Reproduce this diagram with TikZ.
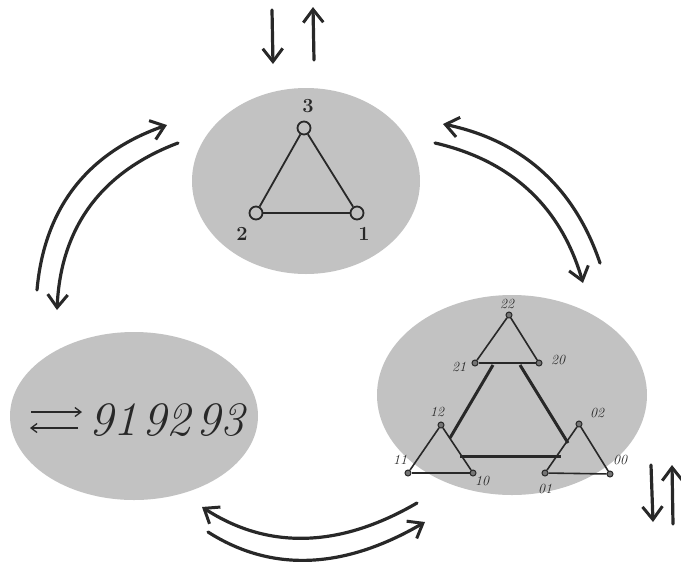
\documentclass[tikz,border=0pt]{standalone}
\usetikzlibrary{arrows.meta,shapes.geometric}
\definecolor{blobgray}{RGB}{194,194,194}
\definecolor{ink}{RGB}{40,40,40}
\tikzset{
  blob/.style={ellipse, fill=blobgray, draw=none, inner sep=0pt},
  bigvert/.style={circle, draw=ink, line width=1.8pt, minimum size=13pt, inner sep=0pt},
  smallvert/.style={circle, draw=ink, fill=blobgray!50!ink, line width=1pt, minimum size=6pt, inner sep=0pt},
  edge1/.style={draw=ink, line width=1.8pt},
  edge2/.style={draw=ink, line width=1.6pt},
  edge3/.style={draw=ink, line width=3pt},
  swoosh/.style={draw=ink, line width=3.2pt, line cap=round, -{Straight Barb[length=13pt,width=20pt,line width=3pt]}},
  biglbl/.style={text=ink, font=\fontsize{20}{20}\selectfont\bfseries, inner sep=0pt},
  smlbl/.style={text=ink, font=\fontsize{14}{14}\selectfont\itshape, inner sep=0pt},
  numlbl/.style={text=ink, font=\fontsize{48}{48}\selectfont\itshape, inner sep=0pt},
}
\begin{document}
\begin{tikzpicture}[x=1pt,y=-1pt]
\useasboundingbox (0,0) rectangle (681,566);
% blobs
\node[blob, minimum width=228pt, minimum height=186pt] (top) at (306,181) {};
\node[blob, minimum width=248pt, minimum height=168pt] (left) at (134,416) {};
\node[blob, minimum width=270pt, minimum height=200pt] (right) at (512,395) {};

% top triangle
\node[bigvert] (t3) at (304,128) {};
\node[bigvert] (t2) at (256,213) {};
\node[bigvert] (t1) at (357,213) {};
\draw[edge1] (t3) -- (t2);
\draw[edge1] (t2) -- (t1);
\draw[edge1] (t1) -- (t3);
\node[biglbl] (l3) at (308,106) {3};
\node[biglbl] (l2) at (242,234) {2};
\node[biglbl] (l1) at (364,234) {1};

% right structure
\node[smallvert] (v22) at (509,315) {};
\node[smallvert] (v21) at (475,363) {};
\node[smallvert] (v20) at (539,363) {};
\node[smallvert] (v12) at (441,425) {};
\node[smallvert] (v11) at (408,473) {};
\node[smallvert] (v10) at (473,473) {};
\node[smallvert] (v02) at (579,424) {};
\node[smallvert] (v01) at (545,473) {};
\node[smallvert] (v00) at (610,474) {};
\draw[edge2] (v22) -- (v21); \draw[edge2] (v21) -- (v20); \draw[edge2] (v20) -- (v22);
\draw[edge2] (v12) -- (v11); \draw[edge2] (v11) -- (v10); \draw[edge2] (v10) -- (v12);
\draw[edge2] (v02) -- (v01); \draw[edge2] (v01) -- (v00); \draw[edge2] (v00) -- (v02);
\coordinate (bA) at (493,365);
\coordinate (bB) at (450,438);
\coordinate (cA) at (520,365);
\coordinate (cB) at (568,443);
\coordinate (dA) at (460,456);
\coordinate (dB) at (561,456);
\draw[edge3] (bA) -- (bB);
\draw[edge3] (cA) -- (cB);
\draw[edge3] (dA) -- (dB);
\node[smlbl] (n22) at (507,304) {22};
\node[smlbl] (n21) at (459,367) {21};
\node[smlbl] (n20) at (558,360) {20};
\node[smlbl] (n12) at (437,412) {12};
\node[smlbl] (n11) at (400,460) {11};
\node[smlbl] (n10) at (482,481) {10};
\node[smlbl] (n02) at (597,413) {02};
\node[smlbl] (n01) at (545,489) {01};
\node[smlbl] (n00) at (620,460) {00};

% left text
\coordinate (ra1) at (31,412);
\coordinate (ra2) at (82,412);
\coordinate (la1) at (78,428);
\coordinate (la2) at (30,428);
\draw[draw=ink, line width=1.3pt, -{Straight Barb[length=6pt,width=9pt,line width=1.3pt]}] (ra1) -- (ra2);
\draw[draw=ink, line width=1.3pt, -{Straight Barb[length=6pt,width=9pt,line width=1.3pt]}] (la1) -- (la2);
\node[numlbl] (g1) at (113,420) {91};
\node[numlbl] (g2) at (166,420) {92};
\node[numlbl] (g3) at (220,420) {93};

% top straight arrows
\coordinate (da1) at (272,10);
\coordinate (da2) at (273,64);
\coordinate (ua1) at (314,60);
\coordinate (ua2) at (313,7);
\draw[swoosh] (da1) -- (da2);
\draw[swoosh] (ua1) -- (ua2);

% bottom-right straight arrows
\coordinate (db1) at (651,465);
\coordinate (db2) at (653,522);
\coordinate (ub1) at (673,524);
\coordinate (ub2) at (672,465);
\draw[swoosh] (db1) -- (db2);
\draw[swoosh] (ub1) -- (ub2);

% left curved pair
\coordinate (lo1) at (37,290);
\coordinate (lo2) at (167,125);
\coordinate (li1) at (178,143);
\coordinate (li2) at (57,310);
\draw[swoosh] (lo1) .. controls (44.3,207.7) and (87.7,152.7) .. (lo2);
\draw[swoosh] (li1) .. controls (101,172) and (60.7,227.7) .. (li2);

% right curved pair
\coordinate (ro1) at (600,263);
\coordinate (ro2) at (443,124);
\coordinate (ri1) at (435,143);
\coordinate (ri2) at (583,283);
\draw[swoosh] (ro1) .. controls (574.2,186.8) and (521.9,140.5) .. (ro2);
\draw[swoosh] (ri1) .. controls (511.8,160.6) and (561.1,207.3) .. (ri2);

% bottom curved pair
\coordinate (bo1) at (417,503);
\coordinate (bo2) at (202,507);
\coordinate (bi1) at (208,532);
\coordinate (bi2) at (425,522);
\draw[swoosh] (bo1) .. controls (339.3,548.3) and (267.7,549.7) .. (bo2);
\draw[swoosh] (bi1) .. controls (271.7,572.7) and (344,569.3) .. (bi2);
\end{tikzpicture}
\end{document}
